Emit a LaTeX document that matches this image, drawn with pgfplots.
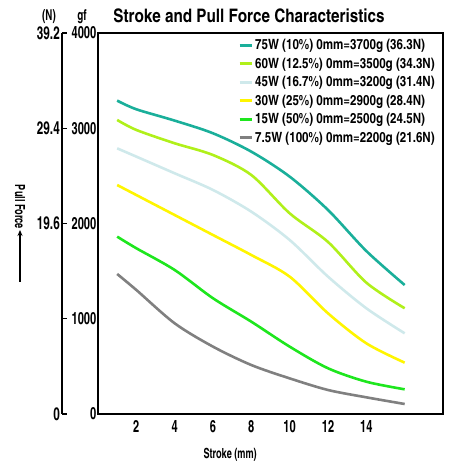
\documentclass[border=0pt]{standalone}
\usepackage{fontspec}
\setmainfont{texgyreheroscn}[Extension=.otf, UprightFont=*-regular, BoldFont=*-bold]
\newfontfamily\cnnarrow{texgyreheroscn}[Extension=.otf, UprightFont=*-bold, FakeStretch=0.8]
\newfontfamily\cnlegend{texgyreheroscn}[Extension=.otf, UprightFont=*-bold]
\usepackage{pgfplots}
\pgfplotsset{compat=1.18}
\usetikzlibrary{arrows.meta}

\definecolor{cteal}{HTML}{1AAF9A}
\definecolor{clime}{HTML}{B0F01A}
\definecolor{cblue}{HTML}{CFE9EB}
\definecolor{cyel}{HTML}{FFF500}
\definecolor{cgreen}{HTML}{1EE61E}
\definecolor{cgray}{HTML}{808080}

\pgfplotstableread{
x    w75  w60  w45  w30  w15  w7
1    3290 3087 2789 2404 1862 1470
2    3199 2982 2702 2299 1740 1302
4    3080 2842 2527 2089 1512 952
6    2947 2719 2352 1879 1215 707
8    2754 2509 2124 1669 969  514
10   2492 2107 1827 1442 707  374
12   2142 1806 1442 1057 480  252
14   1711 1379 1110 742  339  175
16   1354 1110 847  539  259  105
}\forces

\begin{document}
\begin{tikzpicture}[x=1bp,y=1bp]
\useasboundingbox (-98,-50) rectangle (353,414);

% Newton scale on the left
\begin{axis}[
    at={(-36bp,0)}, anchor=south west,
    scale only axis, width=10bp, height=381bp,
    xmin=0, xmax=1, ymin=0, ymax=4000,
    axis x line=none, axis y line*=left,
    ytick={0,1000,2000,3000,4000},
    yticklabels={0,,19.6,29.4,39.2},
    tick align=inside, major tick length=5bp,
    axis line style={line width=1.4bp},
    every tick/.style={line width=1.4bp, black},
    yticklabel style={font=\cnnarrow\fontsize{18}{18}\selectfont, inner sep=2bp},
    /pgf/number format/assume math mode=true,
]
\end{axis}

\begin{axis}[
    at={(0,0)}, anchor=south west,
    scale only axis, width=345bp, height=381bp,
    xmin=0, xmax=18, ymin=0, ymax=4000,
    xtick={2,4,...,14}, ytick={0,1000,...,4000},
    major tick length=0,
    axis line style={line width=1.6bp},
    tick label style={font=\cnnarrow\fontsize{17}{17}\selectfont},
    yticklabel style={inner sep=1.5bp},
    xticklabel style={yshift=-3bp},
    /pgf/number format/assume math mode=true,
    /pgf/number format/1000 sep={},
    xlabel={Stroke (mm)},
    xlabel style={at={(0.383,0)}, anchor=center, yshift=-41bp, font=\cnnarrow\fontsize{14}{14}\selectfont},
    legend style={at={(0.991,0.994)}, anchor=north east, draw=none, fill=none,
        font=\cnlegend\fontsize{14.2}{14.2}\selectfont, row sep=2.6bp},
    legend cell align=left,
    legend image code/.code={\draw[#1, line width=3bp] (0bp,0bp) -- (12bp,0bp);},
    every axis plot/.append style={line width=2.6bp, smooth, tension=0.5},
]
\addplot[cteal] table[x=x, y=w75] {\forces};
\addlegendentry{75W (10\%) 0mm=3700g (36.3N)}
\addplot[clime] table[x=x, y=w60] {\forces};
\addlegendentry{60W (12.5\%) 0mm=3500g (34.3N)}
\addplot[cblue] table[x=x, y=w45] {\forces};
\addlegendentry{45W (16.7\%) 0mm=3200g (31.4N)}
\addplot[cyel] table[x=x, y=w30] {\forces};
\addlegendentry{30W (25\%) 0mm=2900g (28.4N)}
\addplot[cgreen] table[x=x, y=w15] {\forces};
\addlegendentry{15W (50\%) 0mm=2500g (24.5N)}
\addplot[cgray] table[x=x, y=w7] {\forces};
\addlegendentry{7.5W (100\%) 0mm=2200g (21.6N)}
\end{axis}

\node[font=\bfseries\fontsize{18.7}{18.7}\selectfont] at (151,398) {Stroke and Pull Force Characteristics};
\node[font=\cnnarrow\fontsize{15}{15}\selectfont] at (-49,397) {(N)};
\node[font=\cnnarrow\fontsize{15}{15}\selectfont] at (-16,397) {gf};
\node[rotate=-90, font=\cnnarrow\fontsize{14}{14}\selectfont] at (-78,207) {Pull Force};
\draw[line width=1.3bp, -{Stealth[length=6bp,width=5bp]}] (-78,132) -- (-78,184);
\end{tikzpicture}
\end{document}
